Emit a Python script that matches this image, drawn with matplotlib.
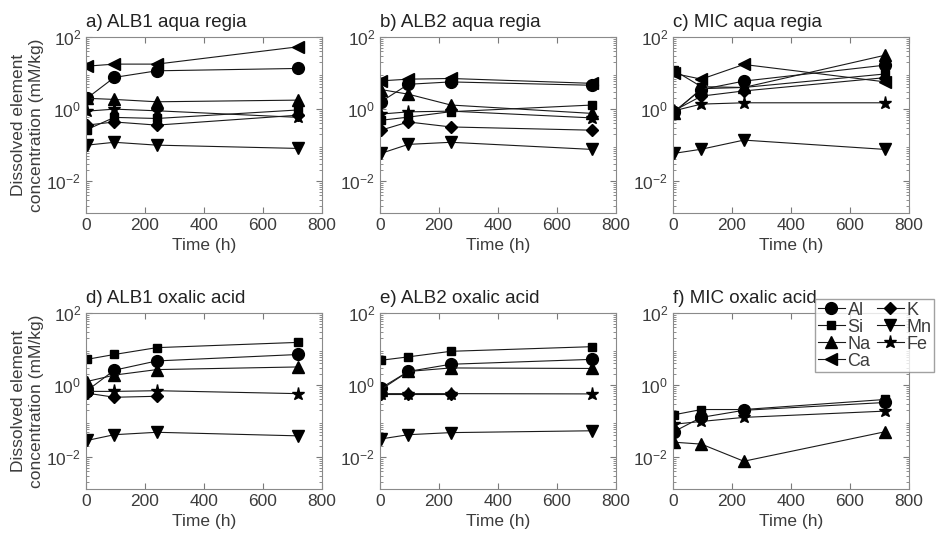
import numpy as np
import matplotlib.pyplot as plt
from matplotlib.ticker import FixedLocator, FixedFormatter, LogLocator

plt.rcParams["font.family"] = ["Liberation Sans", "DejaVu Sans"]
plt.rcParams["mathtext.fontset"] = "custom"
plt.rcParams["mathtext.rm"] = "Liberation Sans"
plt.rcParams["mathtext.default"] = "regular"

# sampling times (h)
time_h = [3, 96, 240, 720]

elements = ["Al", "Si", "Na", "Ca", "K", "Mn", "Fe"]
markers = {"Al": "o", "Si": "s", "Na": "^", "Ca": "<", "K": "D", "Mn": "v", "Fe": "*"}
msizes = {"Al": 8.5, "Si": 6, "Na": 8.5, "Ca": 8.5, "K": 6, "Mn": 8.5, "Fe": 9.5}

# dissolved concentrations (mM/kg); None = not measured
alb1_aqua = {
    "Al": [2.0, 7.6, 11.6, 13.5],
    "Si": [0.27, 0.59, 0.55, 0.95],
    "Na": [2.0, 1.86, 1.6, 1.78],
    "Ca": [15.6, 17.8, 17.8, 54.0],
    "K": [0.36, 0.44, 0.36, 0.68],
    "Mn": [0.10, 0.12, 0.10, 0.081],
    "Fe": [0.88, 1.0, 0.9, 0.59],
}
alb2_aqua = {
    "Al": [1.6, 4.9, 5.7, 4.6],
    "Si": [0.49, 0.6, 0.85, 1.3],
    "Na": [3.5, 2.6, 1.3, 0.76],
    "Ca": [6.1, 6.8, 7.1, 5.2],
    "K": [0.26, 0.44, 0.32, 0.26],
    "Mn": [0.059, 0.105, 0.12, 0.076],
    "Fe": [0.73, 0.84, 0.88, 0.57],
}
mic_aqua = {
    "Al": [0.85, 3.5, 6.0, 16.7],
    "Si": [12.0, 4.2, 4.0, 9.5],
    "Na": [0.8, 3.7, 4.0, 31.6],
    "Ca": [9.8, 6.8, 17.4, 5.7],
    "K": [0.9, 2.3, 3.2, 7.5],
    "Mn": [0.059, 0.077, 0.138, 0.076],
    "Fe": [0.9, 1.38, 1.5, 1.5],
}
alb1_oxalic = {
    "Al": [0.7, 2.6, 4.7, 7.1],
    "Si": [5.2, 7.1, 11.0, 15.4],
    "Na": [1.26, 1.9, 2.7, 3.2],
    "K": [0.6, 0.46, 0.49, None],
    "Mn": [0.029, 0.042, 0.049, 0.039],
    "Fe": [0.67, 0.67, 0.7, 0.58],
}
alb2_oxalic = {
    "Al": [0.83, 2.4, 3.8, 5.2],
    "Si": [4.9, 6.1, 8.7, 11.7],
    "Na": [0.75, 2.4, 3.0, 2.9],
    "K": [0.58, 0.58, 0.58, None],
    "Mn": [0.032, 0.042, 0.048, 0.054],
    "Fe": [0.58, 0.58, 0.58, 0.57],
}
mic_oxalic = {
    "Al": [0.051, 0.127, 0.2, 0.33],
    "Si": [0.15, 0.21, 0.21, 0.4],
    "Na": [0.026, 0.023, 0.0077, 0.051],
    "Fe": [0.082, 0.098, 0.127, 0.19],
}

panels = [
    ("a) ALB1 aqua regia", alb1_aqua),
    ("b) ALB2 aqua regia", alb2_aqua),
    ("c) MIC aqua regia", mic_aqua),
    ("d) ALB1 oxalic acid", alb1_oxalic),
    ("e) ALB2 oxalic acid", alb2_oxalic),
    ("f) MIC oxalic acid", mic_oxalic),
]

grey = "#3c3c3c"
fig = plt.figure(figsize=(9.43, 5.38), dpi=100)
lefts = [0.0912, 0.403, 0.7137]
bottoms = [0.604, 0.091]
w, h = 0.2503, 0.327

handles = {}
for i, (title, data) in enumerate(panels):
    ax = fig.add_axes([lefts[i % 3], bottoms[i // 3], w, h])
    for el in elements:
        if el not in data:
            continue
        vals = np.array([np.nan if v is None else v for v in data[el]], dtype=float)
        (ln,) = ax.plot(time_h, vals, color="#1a1a1a", lw=0.8,
                        marker=markers[el], ms=msizes[el], mfc="black", mec="black")
        handles.setdefault(el, ln)
    ax.set_yscale("log")
    ax.set_ylim(1.3e-3, 100)
    ax.set_xlim(0, 800)
    ax.yaxis.set_major_locator(FixedLocator([1e-2, 1, 1e2]))
    ax.yaxis.set_major_formatter(FixedFormatter(["10$^{-2}$", "10$^{0}$", "10$^{2}$"]))
    ax.yaxis.set_minor_locator(LogLocator(base=10, subs=np.arange(2, 10), numticks=20))
    ax.set_xticks([0, 200, 400, 600, 800])
    ax.tick_params(which="both", direction="in", top=True, right=True,
                   colors="#7a7a7a", labelcolor=grey, labelsize=12.5)
    ax.tick_params(which="major", length=4)
    ax.tick_params(which="minor", length=2)
    for s in ax.spines.values():
        s.set_color("#8a8a8a")
    ax.set_xlabel("Time (h)", color=grey, fontsize=12.5, labelpad=4)
    if i % 3 == 0:
        ax.set_ylabel("Dissolved element\nconcentration (mM/kg)", color=grey,
                      fontsize=12.5, labelpad=2)
    ax.set_title(title, loc="left", color="#222222", fontsize=13.5, pad=7)

order = ["Al", "Si", "Na", "Ca", "K", "Mn", "Fe"]
leg = fig.legend([handles[e] for e in order], order, ncol=2,
                 loc="upper left", bbox_to_anchor=(815 / 943, 1 - 299 / 538),
                 fontsize=13, frameon=True, fancybox=False, edgecolor="#8a8a8a",
                 handlelength=1.5, handletextpad=0.15, columnspacing=0.35,
                 labelspacing=0.0, borderpad=0.15, borderaxespad=0)
for t in leg.get_texts():
    t.set_color(grey)

fig.savefig("out.png", dpi=100)
